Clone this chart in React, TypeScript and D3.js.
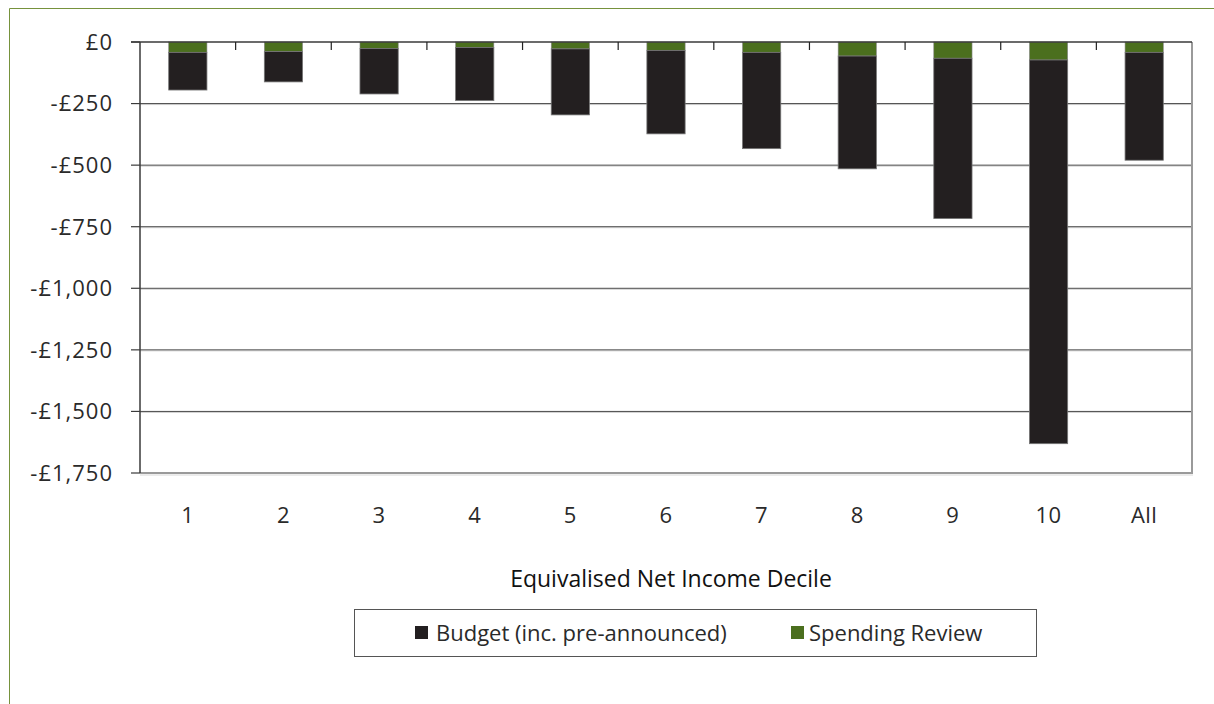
import React from 'react';
import * as d3 from 'd3';

const categories = ['1', '2', '3', '4', '5', '6', '7', '8', '9', '10', 'All'];
const spendingReview = [-42, -39, -26, -22, -28, -34, -42, -57, -66, -73, -42];
const budget = [-153, -123, -185, -216, -268, -339, -391, -458, -651, -1558, -438];
const yTicks = [0, -250, -500, -750, -1000, -1250, -1500, -1750];
const seriesNames = ['Budget (inc. pre-announced)', 'Spending Review'];
const xTitle = 'Equivalised Net Income Decile';

const BLACK = '#231f20';
const GREEN = '#4b6f1e';
const FONT = '"Open Sans", "Noto Sans", sans-serif';

export default function App() {
  const W = 1214, H = 704;
  const left = 140, right = 1192, top = 42, bottom = 473;
  const x = d3.scaleBand<string>().domain(categories).range([left, right]).paddingInner(0.6).paddingOuter(0.3);
  const xb = d3.scaleBand<string>().domain(categories).range([left, right]);
  const y = d3.scaleLinear().domain([-1750, 0]).range([bottom, top]);
  const fmt = (v: number) => (v === 0 ? '£0' : '-£' + d3.format(',')(Math.abs(v)));

  return (
    <svg width={W} height={H} style={{ position: 'absolute', left: 0, top: 0, background: '#fff' }}>
      {/* outer frame */}
      <line x1={9.5} y1={8.5} x2={W} y2={8.5} stroke="#76923c" strokeWidth={1} />
      <line x1={9.5} y1={8.5} x2={9.5} y2={H} stroke="#76923c" strokeWidth={1} />

      {/* gridlines */}
      {yTicks.filter(t => t !== 0 && t !== -1750).map(t => (
        <g key={t}>
          <line x1={left} x2={right} y1={y(t) + 1} y2={y(t) + 1} stroke="#d0d0d0" strokeWidth={1} />
          <line x1={left} x2={right} y1={y(t)} y2={y(t)} stroke="#4a4a4a" strokeWidth={1} />
        </g>
      ))}

      {/* plot border right & bottom */}
      <line x1={left} x2={right + 1} y1={bottom} y2={bottom} stroke="#9a9a9a" strokeWidth={2} />
      <line x1={left} x2={right + 1} y1={bottom + 2} y2={bottom + 2} stroke="#d8d8d8" strokeWidth={1} />
      <line x1={right} x2={right} y1={top} y2={bottom} stroke="#9a9a9a" strokeWidth={2} />

      {/* bars */}
      {categories.map((c, i) => {
        const g0 = y(0), g1 = y(spendingReview[i]);
        const b1 = y(spendingReview[i] + budget[i]);
        return (
          <g key={c}>
            <rect x={x(c)} y={g0} width={x.bandwidth()} height={g1 - g0} fill={GREEN} stroke="#8a8a8a" strokeWidth={0.6} />
            <rect x={x(c)} y={g1} width={x.bandwidth()} height={b1 - g1} fill={BLACK} stroke="#777" strokeWidth={0.8} />
          </g>
        );
      })}

      {/* x axis at zero */}
      <line x1={left - 9} x2={right} y1={y(0)} y2={y(0)} stroke="#3a3a3a" strokeWidth={1.5} />
      {categories.slice(1).map(c => (
        <line key={c} x1={xb(c)} x2={xb(c)} y1={y(0)} y2={y(0) + 8} stroke="#222" strokeWidth={1.2} />
      ))}

      {/* y axis */}
      <line x1={left} x2={left} y1={top} y2={bottom} stroke="#3a3a3a" strokeWidth={1.5} />
      {yTicks.map(t => (
        <g key={t}>
          <line x1={left - 9} x2={left} y1={y(t)} y2={y(t)} stroke="#3a3a3a" strokeWidth={1.2} />
          <text x={113} y={y(t)} dy="0.36em" textAnchor="end" fontFamily={FONT} fontSize={22} letterSpacing={1} fill="#2a2a2a">{fmt(t)}</text>
        </g>
      ))}

      {/* x labels */}
      {categories.map(c => (
        <text key={c} x={(xb(c) as number) + xb.bandwidth() / 2} y={523} textAnchor="middle" fontFamily={FONT} fontSize={22} letterSpacing={0.5} fill="#2a2a2a">{c}</text>
      ))}

      {/* x title */}
      <text x={671} y={587} textAnchor="middle" fontFamily={FONT} fontSize={23} fill="#111">{xTitle}</text>

      {/* legend */}
      <rect x={354.5} y={609.5} width={682} height={47} fill="#fff" stroke="#555" strokeWidth={1} />
      <rect x={415} y={626} width={13} height={13} fill={BLACK} />
      <text x={436} y={641} fontFamily={FONT} fontSize={22} fill="#2a2a2a">{seriesNames[0]}</text>
      <rect x={791} y={626} width={13} height={13} fill={GREEN} />
      <text x={809} y={641} fontFamily={FONT} fontSize={22} fill="#2a2a2a">{seriesNames[1]}</text>
    </svg>
  );
}
